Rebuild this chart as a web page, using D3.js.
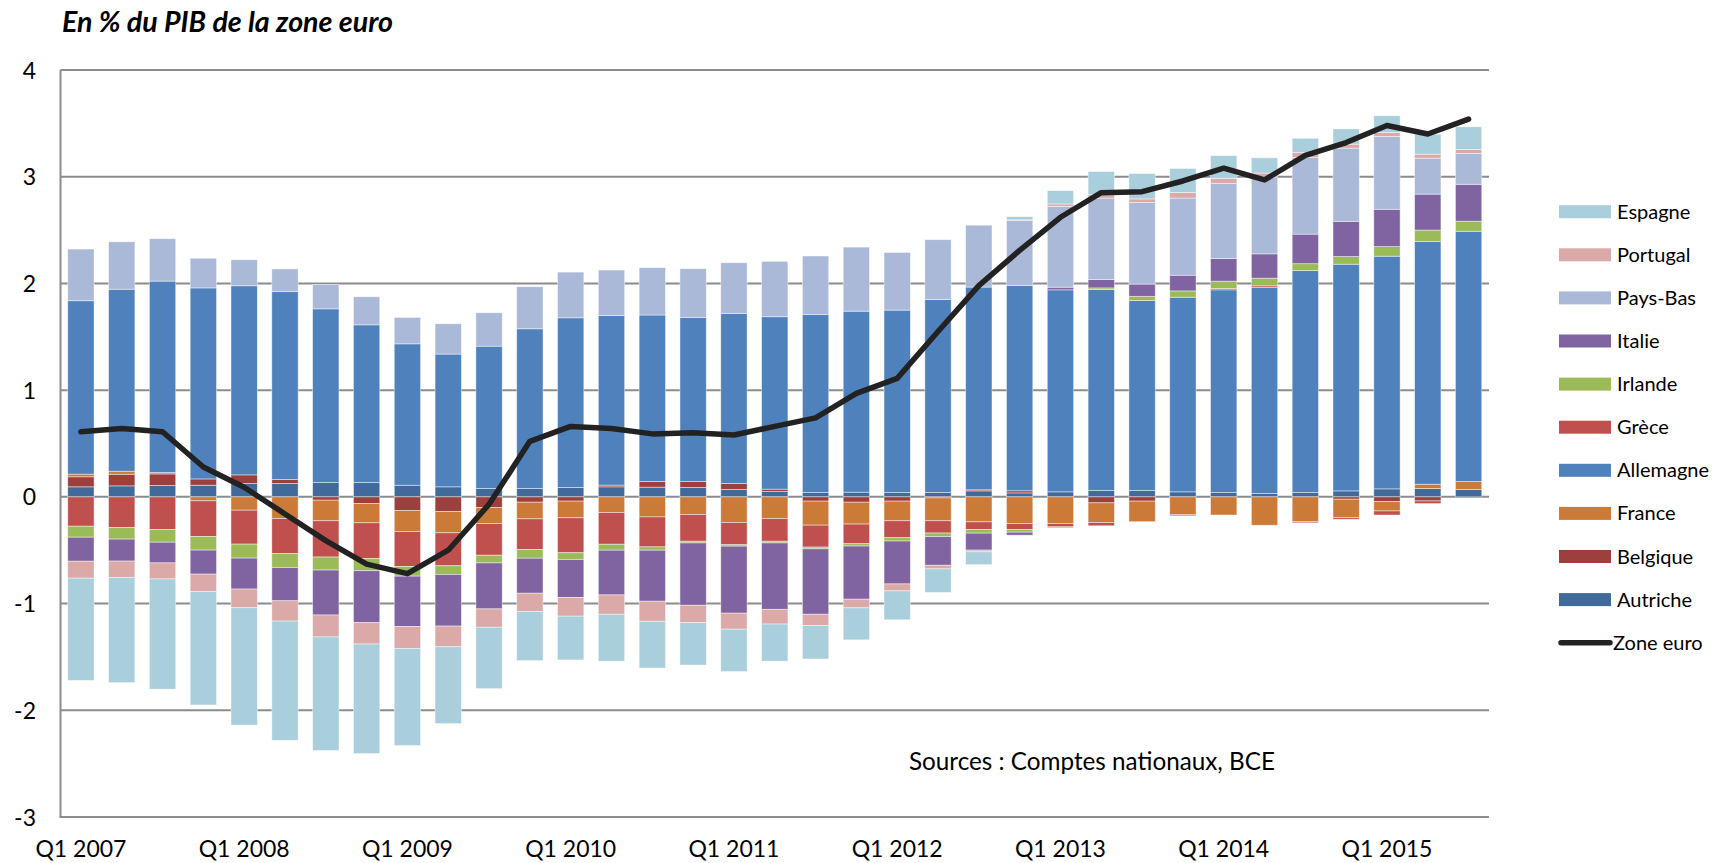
<!DOCTYPE html>
<html>
<head>
<meta charset="utf-8">
<script src="https://cdn.jsdelivr.net/npm/d3@7"></script>
<style>
  html, body { margin: 0; padding: 0; background: #fff; }
  svg { display: block; }
  text { font-family: Lato, "Open Sans", sans-serif; fill: #000; }
</style>
</head>
<body>
<svg id="chart" width="1714" height="863"></svg>
<script>
// ---------- DATA ----------
const quarters = [
  "Q1 2007","Q2 2007","Q3 2007","Q4 2007",
  "Q1 2008","Q2 2008","Q3 2008","Q4 2008",
  "Q1 2009","Q2 2009","Q3 2009","Q4 2009",
  "Q1 2010","Q2 2010","Q3 2010","Q4 2010",
  "Q1 2011","Q2 2011","Q3 2011","Q4 2011",
  "Q1 2012","Q2 2012","Q3 2012","Q4 2012",
  "Q1 2013","Q2 2013","Q3 2013","Q4 2013",
  "Q1 2014","Q2 2014","Q3 2014","Q4 2014",
  "Q1 2015","Q2 2015","Q3 2015"
];
const xTickLabels = ["Q1 2007","Q1 2008","Q1 2009","Q1 2010","Q1 2011","Q1 2012","Q1 2013","Q1 2014","Q1 2015"];
const yTickValues = [4, 3, 2, 1, 0, -1, -2, -3];

const autriche = [0.094,0.103,0.106,0.109,0.125,0.125,0.134,0.134,0.109,0.094,
  0.078,0.078,0.088,0.094,0.091,0.088,0.069,0.05,0.04,0.044,
  0.04,0.04,0.056,0.037,0.047,0.059,0.059,0.047,0.04,0.031,
  0.04,0.056,0.075,0.078,0.069];
const belgique = [0.094,0.109,0.109,0.059,0.081,0.038,-0.031,-0.062,-0.128,-0.137,
  -0.1,-0.05,-0.04,0.016,0.053,0.056,0.056,0.022,-0.04,-0.05,
  -0.04,-0.01,0.01,0.02,0,-0.056,-0.04,0,0,0,
  0,-0.022,-0.044,-0.038,0];
const france = [0.025,0.028,0.013,-0.037,-0.125,-0.203,-0.193,-0.181,-0.197,-0.2,
  -0.15,-0.156,-0.156,-0.147,-0.188,-0.166,-0.24,-0.203,-0.225,-0.205,
  -0.184,-0.214,-0.234,-0.25,-0.25,-0.184,-0.193,-0.165,-0.17,-0.266,
  -0.231,-0.172,-0.088,0.04,0.075];
const allemagne = [1.625,1.706,1.794,1.79,1.772,1.76,1.628,1.478,1.325,1.244,
  1.334,1.497,1.59,1.59,1.56,1.538,1.594,1.616,1.67,1.696,
  1.71,1.81,1.90,1.924,1.893,1.883,1.78,1.824,1.90,1.93,
  2.08,2.124,2.18,2.276,2.345];
const grece = [-0.275,-0.287,-0.306,-0.334,-0.318,-0.328,-0.34,-0.334,-0.328,-0.309,
  -0.297,-0.288,-0.328,-0.297,-0.281,-0.25,-0.209,-0.213,-0.206,-0.184,
  -0.159,-0.115,-0.072,-0.056,-0.031,-0.031,0,-0.012,0.012,0.016,
  -0.012,-0.016,-0.038,-0.025,0];
const irlande = [-0.103,-0.109,-0.119,-0.128,-0.131,-0.131,-0.122,-0.115,-0.09,-0.081,
  -0.072,-0.081,-0.063,-0.056,-0.031,-0.016,-0.013,-0.016,-0.016,-0.022,
  -0.031,-0.034,-0.034,-0.025,-0.01,0.016,0.04,0.059,0.069,0.072,
  0.065,0.072,0.09,0.106,0.094];
const italie = [-0.225,-0.206,-0.194,-0.225,-0.29,-0.312,-0.421,-0.487,-0.471,-0.484,
  -0.431,-0.328,-0.356,-0.419,-0.478,-0.584,-0.628,-0.622,-0.613,-0.498,
  -0.402,-0.268,-0.159,-0.028,0.025,0.078,0.115,0.147,0.212,0.228,
  0.277,0.33,0.35,0.337,0.346];
const paysBas = [0.484,0.444,0.397,0.278,0.244,0.213,0.228,0.263,0.247,0.284,
  0.313,0.394,0.428,0.425,0.444,0.456,0.475,0.519,0.547,0.60,
  0.54,0.56,0.58,0.61,0.758,0.764,0.764,0.723,0.705,0.72,
  0.717,0.686,0.683,0.337,0.29];
const portugal = [-0.159,-0.153,-0.15,-0.162,-0.175,-0.19,-0.206,-0.2,-0.206,-0.194,
  -0.172,-0.172,-0.175,-0.181,-0.188,-0.163,-0.15,-0.138,-0.106,-0.081,
  -0.065,-0.034,-0.016,0.005,0.022,0.031,0.034,0.053,0.047,0.037,
  0.047,0.037,0.037,0.037,0.037];
const espagne = [-0.958,-0.986,-1.033,-1.064,-1.10,-1.117,-1.064,-1.027,-0.911,-0.72,
  -0.575,-0.459,-0.41,-0.44,-0.438,-0.397,-0.397,-0.347,-0.313,-0.30,
  -0.271,-0.221,-0.12,0.03,0.125,0.218,0.237,0.224,0.212,0.143,
  0.134,0.143,0.156,0.187,0.212];
const zoneEuro = [0.61,0.64,0.61,0.28,0.09,-0.16,-0.41,-0.63,-0.72,-0.50,
  -0.07,0.52,0.66,0.64,0.59,0.60,0.58,0.66,0.74,0.97,
  1.11,1.55,1.98,2.31,2.62,2.85,2.86,2.96,3.08,2.97,
  3.20,3.32,3.48,3.40,3.54];

const seriesNames = ["Autriche","Belgique","France","Allemagne","Grèce","Irlande","Italie","Pays-Bas","Portugal","Espagne"];
const seriesValues = [autriche, belgique, france, allemagne, grece, irlande, italie, paysBas, portugal, espagne];
const seriesColors = ["#416A9B","#9D3F3D","#CC7A38","#4F81BD","#C0504D","#9BBB59","#8064A2","#AAB9D7","#DAA9A8","#A9CEDC"];
const lineName = "Zone euro";

// ---------- LAYOUT ----------
const svg = d3.select("#chart");
const plot = { left: 60.5, right: 1489, top: 70, bottom: 817 };

function fitWidth(sel, target) {
  const len = sel.node().getComputedTextLength();
  const fs = +sel.attr("font-size");
  if (len > 0) sel.attr("font-size", (fs * target / len).toFixed(2));
}

const rows = quarters.map((q, i) => {
  const r = { q };
  seriesNames.forEach((n, j) => r[n] = seriesValues[j][i]);
  return r;
});

const x = d3.scaleBand().domain(quarters).range([plot.left, plot.right])
  .paddingInner(0.355).paddingOuter(0.1775);
const y = d3.scaleLinear().domain([-3, 4]).range([plot.bottom, plot.top]);

// gridlines
const grid = svg.append("g");
grid.selectAll("line").data(yTickValues.filter(v => v > -3)).join("line")
  .attr("x1", plot.left).attr("x2", plot.right)
  .attr("y1", d => y(d)).attr("y2", d => y(d))
  .attr("stroke", "#8c8c8c").attr("stroke-width", 2);

// stacked bars
const stack = d3.stack().keys(seriesNames).offset(d3.stackOffsetDiverging);
const stacked = stack(rows);
const barsG = svg.append("g");
stacked.forEach((layer, j) => {
  barsG.append("g").attr("fill", seriesColors[j])
    .selectAll("rect").data(layer).join("rect")
    .attr("x", d => x(d.data.q))
    .attr("width", x.bandwidth())
    .attr("y", d => y(Math.max(d[0], d[1])))
    .attr("height", d => Math.abs(y(d[0]) - y(d[1])))
    .attr("stroke", "rgba(255,255,255,0.55)")
    .attr("stroke-width", 0.8);
});

// axes lines
svg.append("line").attr("x1", plot.left).attr("x2", plot.left)
  .attr("y1", y(4)).attr("y2", y(-3)).attr("stroke", "#8c8c8c").attr("stroke-width", 2);
svg.append("line").attr("x1", plot.left - 1).attr("x2", plot.right)
  .attr("y1", y(-3)).attr("y2", y(-3)).attr("stroke", "#8c8c8c").attr("stroke-width", 2);

// y axis labels
const yAxis = d3.axisLeft(y).tickValues(yTickValues).tickSize(0).tickPadding(0).tickFormat(d => String(d));
const yG = svg.append("g").attr("transform", `translate(36,0)`).call(yAxis);
yG.select(".domain").remove();
yG.selectAll("text").attr("font-size", 23).attr("fill", "#000")
  .attr("font-family", "Lato, sans-serif").attr("dy", "0.35em");

// x axis labels
const xAxis = d3.axisBottom(x).tickValues(xTickLabels).tickSize(0).tickPadding(0);
const xG = svg.append("g").attr("transform", `translate(0,849)`).call(xAxis);
xG.select(".domain").remove();
xG.selectAll("text").attr("font-size", 23).attr("fill", "#000")
  .attr("font-family", "Lato, sans-serif").attr("dy", "0.35em");

// zone euro line
const line = d3.line()
  .x((d, i) => x(quarters[i]) + x.bandwidth() / 2)
  .y(d => y(d));
svg.append("path").datum(zoneEuro)
  .attr("d", line).attr("fill", "none")
  .attr("stroke", "#222").attr("stroke-width", 5.5)
  .attr("stroke-linejoin", "round").attr("stroke-linecap", "round");

// title
const title = svg.append("text").attr("x", 62).attr("y", 32)
  .attr("font-size", 25).attr("font-weight", "bold").attr("font-style", "italic")
  .text("En % du PIB de la zone euro");
fitWidth(title, 331);

// source
const src = svg.append("text").attr("x", 909).attr("y", 762).attr("dy", "0.35em")
  .attr("font-size", 22)
  .text("Sources : Comptes nationaux, BCE");
fitWidth(src, 366);

// legend
const legend = svg.append("g");
const legendItems = seriesNames.map((n, j) => ({ name: n, color: seriesColors[j] })).reverse();
const legY0 = 211.7, legStep = 43.1;
legendItems.forEach((it, i) => {
  const yy = legY0 + i * legStep;
  legend.append("rect").attr("x", 1559).attr("y", yy - 6.5).attr("width", 52).attr("height", 13).attr("fill", it.color);
  legend.append("text").attr("x", 1617).attr("y", yy).attr("dy", "0.35em").attr("font-size", 20).text(it.name);
});
{
  const yy = legY0 + legendItems.length * legStep;
  legend.append("line").attr("x1", 1561).attr("x2", 1610).attr("y1", yy).attr("y2", yy)
    .attr("stroke", "#222").attr("stroke-width", 5.5).attr("stroke-linecap", "round");
  legend.append("text").attr("x", 1613).attr("y", yy).attr("dy", "0.35em").attr("font-size", 20).text(lineName);
}
</script>
</body>
</html>
